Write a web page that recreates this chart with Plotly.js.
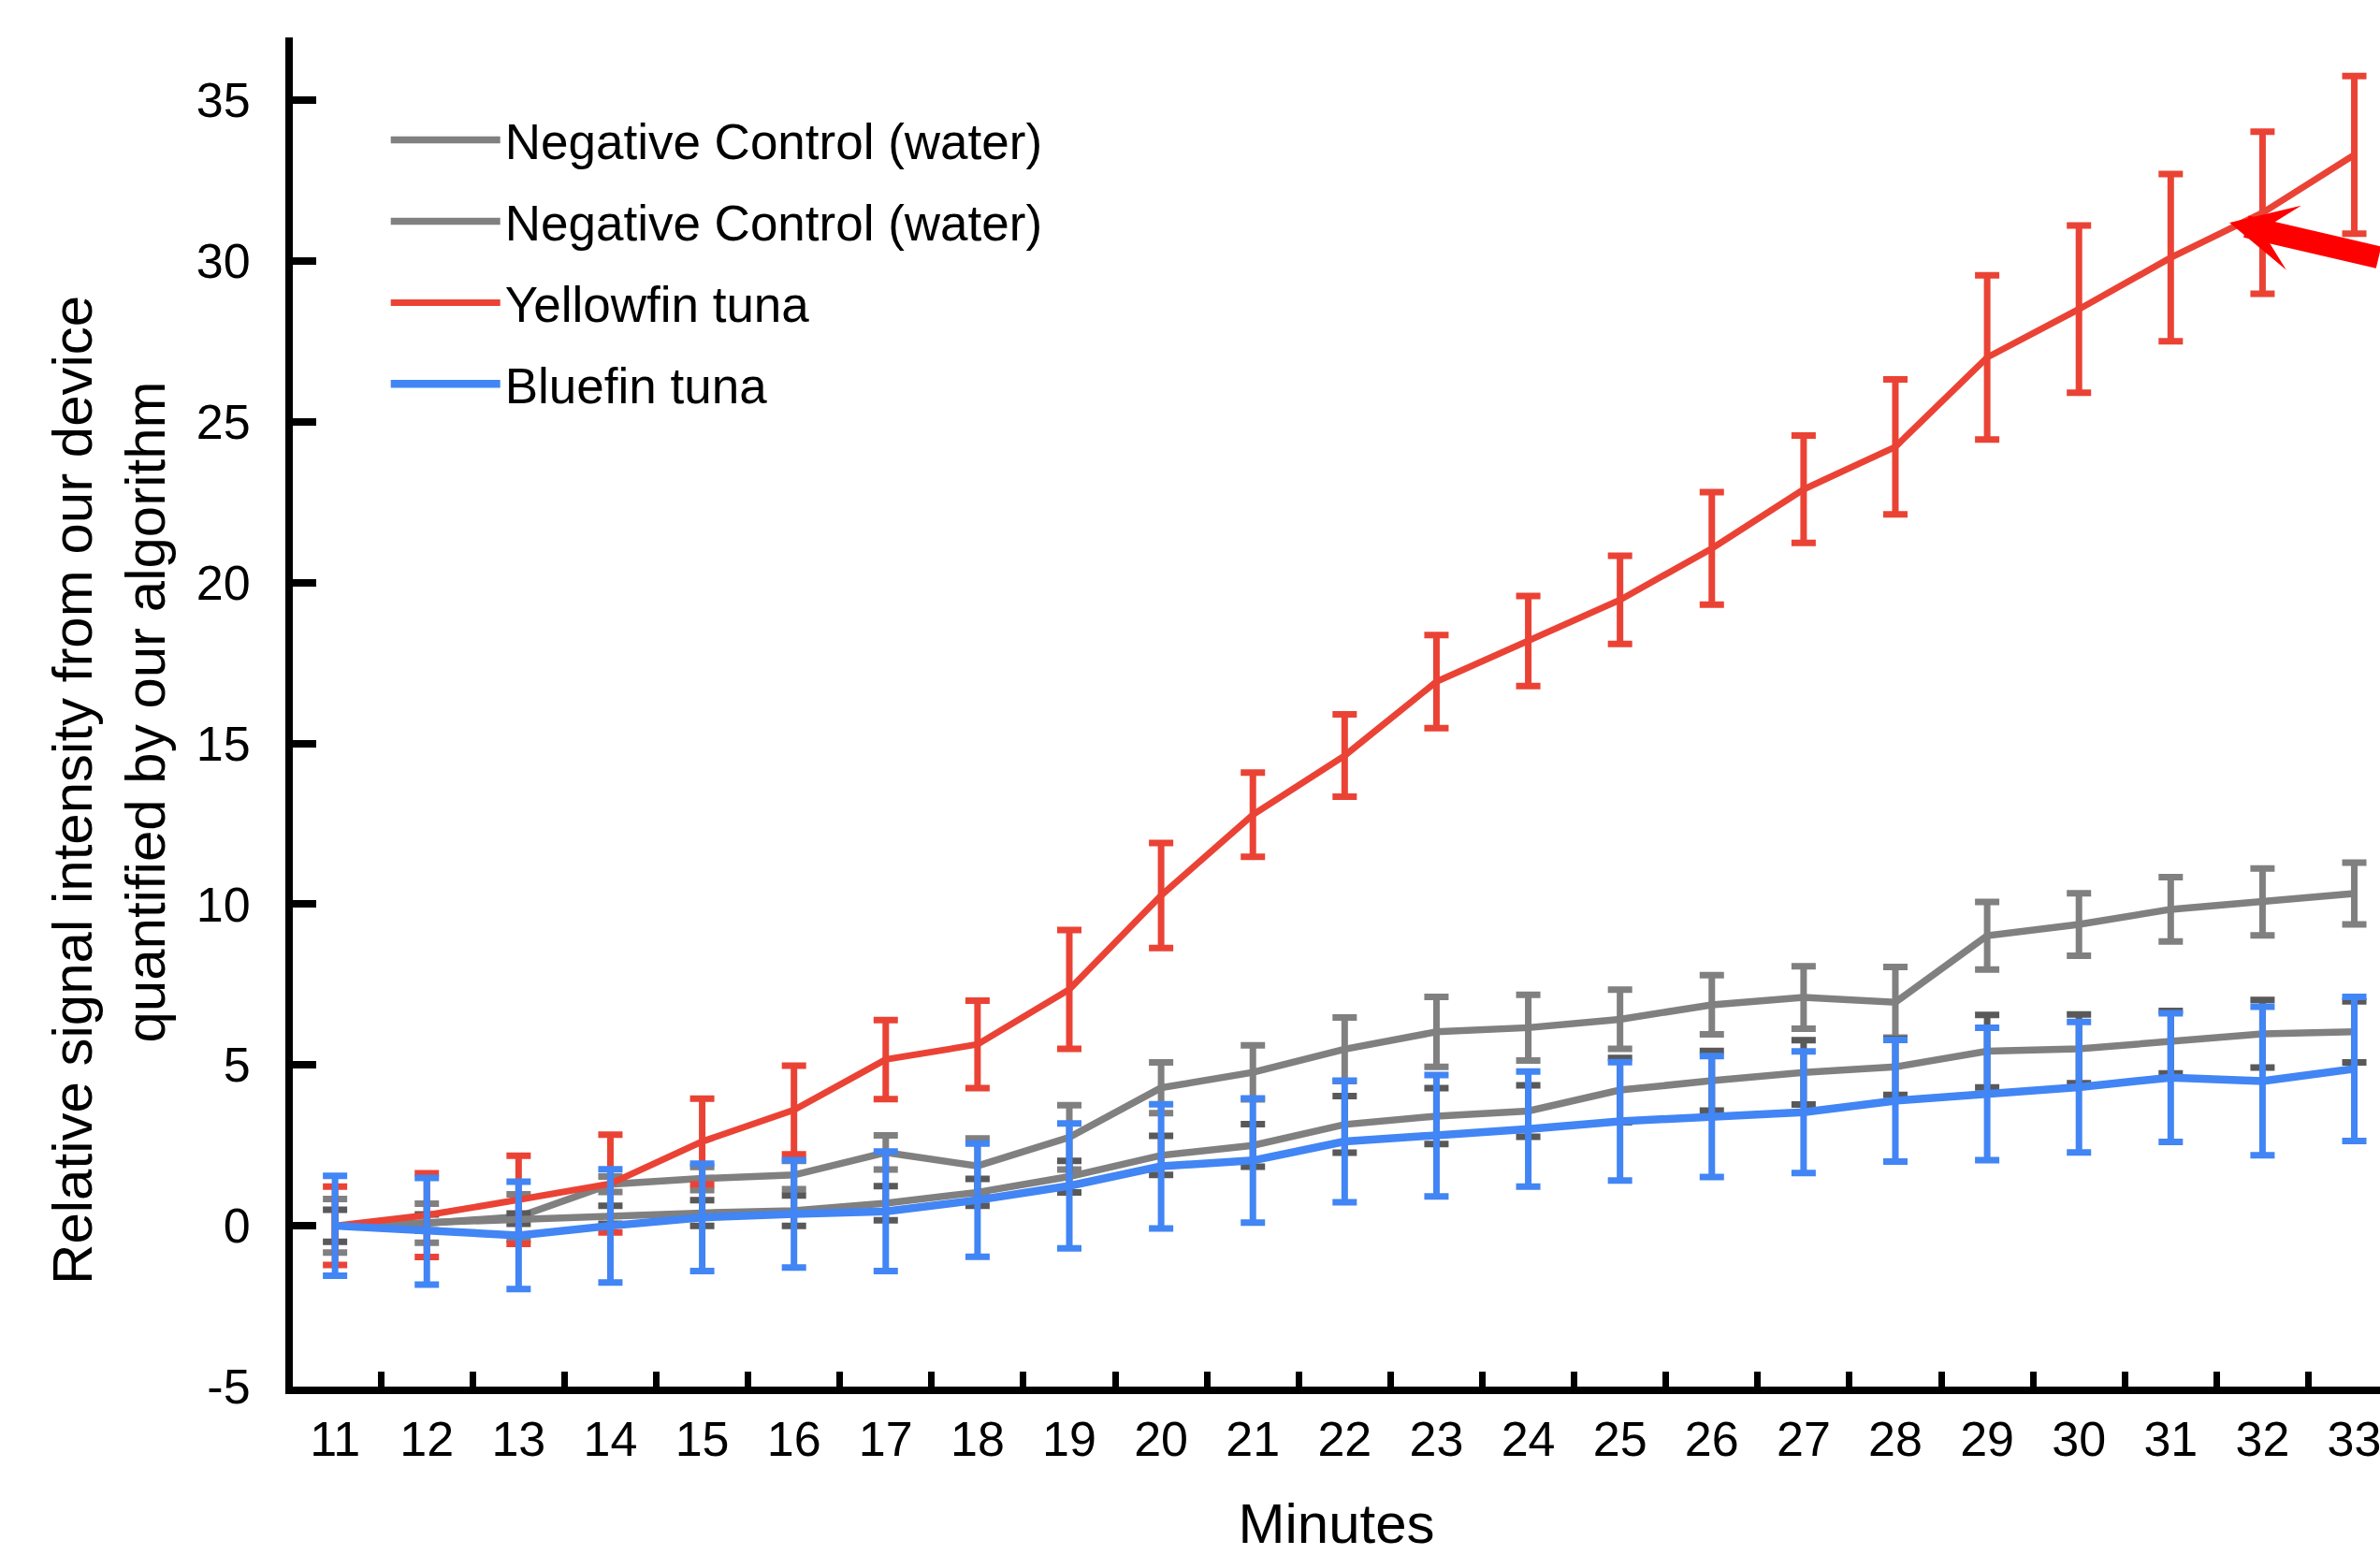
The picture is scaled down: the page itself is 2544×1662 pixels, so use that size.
<!DOCTYPE html>
<html>
<head>
<meta charset="utf-8">
<script src="https://cdn.plot.ly/plotly-3.0.1.min.js"></script>
<style>
html,body{margin:0;padding:0;background:#ffffff;}
#chart{width:2544px;height:1662px;}
</style>
</head>
<body>
<div id="chart"></div>
<script>
// ---- data ----
const minutes = [11,12,13,14,15,16,17,18,19,20,21,22,23,24,25,26,27,28,29,30,31,32,33];

const negControlAMean = [0,0.08,0.28,1.29,1.47,1.58,2.28,1.86,2.75,4.29,4.77,5.49,6.03,6.16,6.42,6.87,7.10,6.95,9.02,9.37,9.84,10.07,10.33];
const negControlAErr  = [0.83,0.61,0.70,0.24,0.36,0.44,0.53,0.86,1.00,0.79,0.84,0.99,1.09,1.02,0.92,0.92,0.97,1.10,1.05,0.97,1.00,1.04,0.96];

const negControlBMean = [0,0.10,0.22,0.34,0.40,0.47,0.70,1.04,1.53,2.19,2.50,3.15,3.41,3.57,4.22,4.51,4.77,4.94,5.43,5.50,5.71,5.97,6.03];
const negControlBErr  = [0.50,0.25,0.16,0.28,0.40,0.47,0.53,0.42,0.49,0.61,0.66,0.88,0.87,0.80,1.00,0.93,1.00,0.87,1.13,1.07,0.97,1.05,0.95];

const yellowfinMean = [0,0.33,0.81,1.31,2.62,3.60,5.17,5.64,7.35,10.27,12.78,14.62,16.92,18.18,19.46,21.06,22.90,24.22,27.00,28.50,30.10,31.50,33.30];
const yellowfinErr  = [1.22,1.30,1.37,1.52,1.33,1.38,1.23,1.36,1.85,1.63,1.31,1.28,1.45,1.40,1.37,1.75,1.67,2.10,2.55,2.60,2.60,2.52,2.45];

const bluefinMean = [0,-0.17,-0.30,0.00,0.26,0.37,0.45,0.80,1.24,1.85,2.03,2.62,2.80,3.01,3.25,3.40,3.53,3.89,4.10,4.31,4.61,4.50,4.88];
const bluefinErr  = [1.55,1.66,1.67,1.76,1.67,1.67,1.86,1.76,1.94,1.93,1.93,1.89,1.89,1.79,1.84,1.88,1.89,1.89,2.06,2.03,2.00,2.31,2.24];

const seriesNames = ['Negative Control (water)','Negative Control (water)','Yellowfin tuna','Bluefin tuna'];
const yTickValues = [-5,0,5,10,15,20,25,30,35];
const yTickLabels = ['-5','0','5','10','15','20','25','30','35'];
const xTitleText = 'Minutes';
const yTitleLines = ['Relative signal intensity from our device', 'quantified by our algorithm'];
// point marked by the red arrow (on the Yellowfin curve, between minutes 31 and 32)
const arrowTarget = {minute: 31.64, value: 31.19};

// ---- styling ----
const FONT = 'Liberation Sans, Arial, Helvetica, sans-serif';
const lineGray = '#808080';
const errDarkGray = '#595959';
const red = '#EA4335';
const blue = '#4285F4';
// trailing no-break spaces only nudge the centred titles to where the reference puts them
const NBSP = '\u00A0';
const yTitle = yTitleLines.map(s => s + NBSP.repeat(10)).join('<br>');
const xTitle = xTitleText + NBSP.repeat(2);

function makeTrace(name, mean, err, lineColor, lineWidth, errColor, group) {
  return {
    type: 'scatter', mode: 'lines', name: name, legendgroup: group,
    x: minutes, y: mean,
    line: {color: lineColor, width: lineWidth},
    error_y: {type: 'data', array: err, symmetric: true, visible: true,
              color: errColor, thickness: 7, width: 13},
    hoverinfo: 'x+y'
  };
}

const traces = [
  makeTrace(seriesNames[0], negControlAMean, negControlAErr, lineGray, 7.5, lineGray, 'g1'),
  makeTrace(seriesNames[1], negControlBMean, negControlBErr, lineGray, 7.5, errDarkGray, 'g2'),
  makeTrace(seriesNames[2], yellowfinMean, yellowfinErr, red, 7, red, 'g3'),
  makeTrace(seriesNames[3], bluefinMean, bluefinErr, blue, 8.5, blue, 'g4')
];

const halfTicks = minutes.map(m => m + 0.5);

const layout = {
  width: 2544, height: 1662,
  margin: {l: 313, r: 0, t: 40, b: 180, pad: 0},
  paper_bgcolor: '#ffffff', plot_bgcolor: '#ffffff',
  font: {family: FONT, color: '#000000', size: 52},
  showlegend: true,
  legend: {
    x: 0.04469, y: 0.9524, xanchor: 'left', yanchor: 'top',
    bgcolor: 'rgba(0,0,0,0)', borderwidth: 0,
    font: {family: FONT, size: 53, color: '#000000'},
    itemwidth: 117, tracegroupgap: 15, traceorder: 'grouped'
  },
  xaxis: {
    type: 'linear', range: [10.54, 33.28],
    tickmode: 'array', tickvals: minutes, ticks: '',
    showgrid: false, zeroline: false,
    showline: true, linecolor: '#000000', linewidth: 8,
    tickfont: {family: FONT, size: 52, color: '#000000'},
    ticklabelstandoff: 4, ticklabeloverflow: 'allow',
    minor: {tickmode: 'array', tickvals: halfTicks, ticks: 'inside', ticklen: 16, tickwidth: 7, tickcolor: '#000000', showgrid: false},
    title: {text: xTitle, font: {family: FONT, size: 60, color: '#000000'}, standoff: 95}
  },
  yaxis: {
    range: [-5, 36.95],
    tickmode: 'array', tickvals: yTickValues, ticktext: yTickLabels,
    ticks: 'inside', ticklen: 25, tickwidth: 8, tickcolor: '#000000',
    showgrid: false, zeroline: false,
    showline: true, linecolor: '#000000', linewidth: 8,
    tickfont: {family: FONT, size: 52, color: '#000000'},
    ticklabelstandoff: 27,
    title: {text: yTitle, font: {family: FONT, size: 60, color: '#000000'}, standoff: 17}
  },
  annotations: [{
    x: arrowTarget.minute, y: arrowTarget.value, xref: 'x', yref: 'y',
    text: '', showarrow: true,
    arrowhead: 3, arrowsize: 0.49, arrowwidth: 24, arrowcolor: '#FF0000',
    ax: 172, ay: 37.5, standoff: 0
  }]
};

Plotly.newPlot('chart', traces, layout, {displayModeBar: false, staticPlot: true});
</script>
</body>
</html>
